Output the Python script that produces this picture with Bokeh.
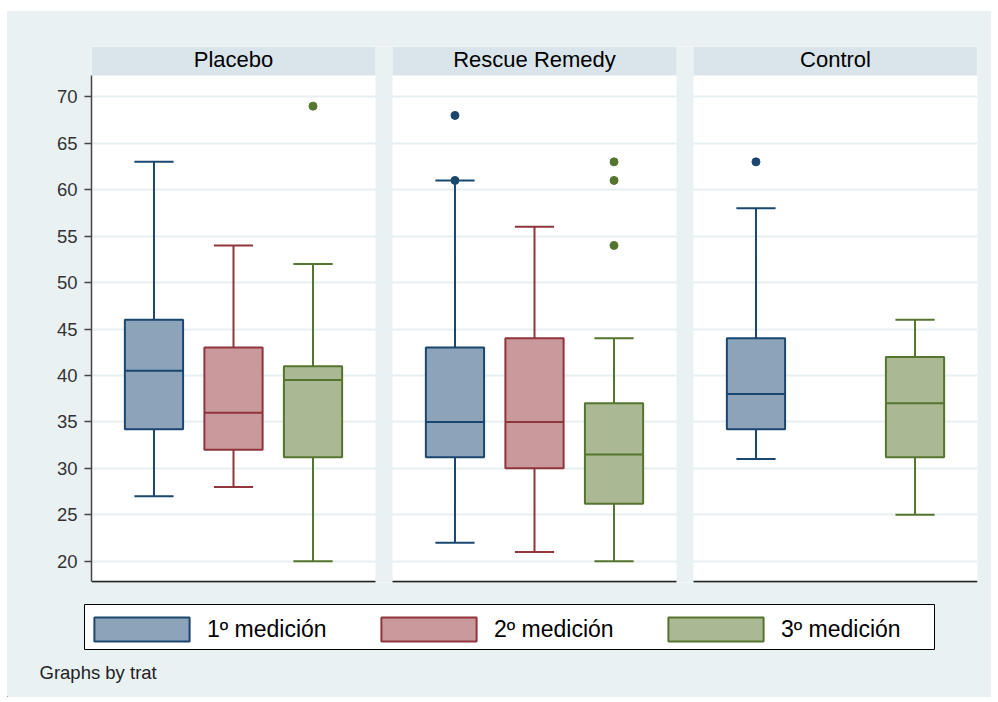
from bokeh.plotting import figure
from bokeh.layouts import column
from bokeh.models import Range1d, FixedTicker, Legend, LegendItem, Label, ColumnDataSource
from bokeh.embed import file_html
from bokeh.resources import INLINE

# ---------------- data ----------------
panels = ["Placebo", "Rescue Remedy", "Control"]
series = ["1º medición", "2º medición", "3º medición"]
y_ticks = [20, 25, 30, 35, 40, 45, 50, 55, 60, 65, 70]

# values per panel: [Placebo, Rescue Remedy, Control]  (None = no data)
low_1 = [27, 22, 31]
q1_1 = [34.2, 31.2, 34.2]
median_1 = [40.5, 35, 38]
q3_1 = [46, 43, 44]
high_1 = [63, 61, 58]

low_2 = [28, 21, None]
q1_2 = [32, 30, None]
median_2 = [36, 35, None]
q3_2 = [43, 44, None]
high_2 = [54, 56, None]

low_3 = [20, 20, 25]
q1_3 = [31.2, 26.2, 31.2]
median_3 = [39.5, 31.5, 37]
q3_3 = [41, 37, 42]
high_3 = [52, 44, 46]

outlier_panel = ["Placebo", "Rescue Remedy", "Rescue Remedy", "Rescue Remedy",
                 "Rescue Remedy", "Rescue Remedy", "Control"]
outlier_series = ["3º medición", "1º medición", "1º medición", "3º medición",
                  "3º medición", "3º medición", "1º medición"]
outlier_value = [69, 68, 61, 63, 61, 54, 63]

footer = "Graphs by trat"

# ---------------- style ----------------
line_colors = ["#1a476f", "#90353b", "#55752f"]
fill_colors = ["#8da3b9", "#c9999c", "#aab994"]
BG = "#eaf1f3"
HEADER = "#d9e5eb"
GRID = "#e8eff2"
FONT = "Liberation Sans"

GAP = 17 / 284            # gap between panels, in panel widths
OFFS = [0.22, 0.5, 0.78]  # box centres inside a panel
BOX_W = 0.205
CAP_W = 0.138
Y0, Y1 = 17.71, 75.42     # frame range
PLOT_BOTTOM, PLOT_TOP = 17.8, 72.3

p = figure(width=984, height=583, output_backend="svg", toolbar_location=None,
           x_range=Range1d(0, 3 + 2 * GAP), y_range=Range1d(Y0, Y1),
           x_axis_location=None, min_border_left=84, min_border_right=14,
           min_border_top=35, min_border_bottom=12)
p.frame_align = False
p.border_fill_color = BG
p.background_fill_color = "white"
p.outline_line_color = None
p.xgrid.visible = False
p.ygrid.ticker = FixedTicker(ticks=y_ticks)
p.ygrid.grid_line_color = GRID
p.ygrid.grid_line_width = 2

ax = p.yaxis[0]
ax.ticker = FixedTicker(ticks=y_ticks)
ax.bounds = (PLOT_BOTTOM, PLOT_TOP)
ax.axis_line_color = "#444444"
ax.axis_line_width = 1.5
ax.major_tick_line_color = "#444444"
ax.major_tick_line_width = 1.5
ax.major_tick_out = 7
ax.major_tick_in = 0
ax.minor_tick_line_color = None
ax.major_label_text_font = FONT
ax.major_label_text_font_size = "18.5px"
ax.major_label_text_color = "#333333"
ax.major_label_standoff = 7

def px(i):
    return i * (1 + GAP)

# panel gaps, headers, bottom lines
p.quad(left=[px(1) - GAP, px(2) - GAP], right=[px(1), px(2)], bottom=Y0, top=Y1,
       fill_color=BG, line_color=None)
p.quad(left=[px(i) for i in range(3)], right=[px(i) + 1 for i in range(3)],
       bottom=PLOT_TOP, top=Y1, fill_color=HEADER, line_color=None)
p.segment(x0=[px(i) for i in range(3)], x1=[px(i) + 1 for i in range(3)],
          y0=PLOT_BOTTOM, y1=PLOT_BOTTOM, line_color="#222222", line_width=2)
for i, name in enumerate(panels):
    p.add_layout(Label(x=px(i) + 0.5, y=74.05, text=name, text_align="center",
                       text_baseline="middle", text_font=FONT,
                       text_font_size="22px", text_color="black"))

stats = [
    (low_1, q1_1, median_1, q3_1, high_1),
    (low_2, q1_2, median_2, q3_2, high_2),
    (low_3, q1_3, median_3, q3_3, high_3),
]

for k, (lo, q1, med, q3, hi) in enumerate(stats):
    idx = [i for i in range(3) if med[i] is not None]
    x = [px(i) + OFFS[k] for i in idx]
    src = ColumnDataSource(dict(
        x=x,
        lo=[lo[i] for i in idx], q1=[q1[i] for i in idx], med=[med[i] for i in idx],
        q3=[q3[i] for i in idx], hi=[hi[i] for i in idx],
        bx0=[v - BOX_W / 2 for v in x], bx1=[v + BOX_W / 2 for v in x],
        cx0=[v - CAP_W / 2 for v in x], cx1=[v + CAP_W / 2 for v in x],
    ))
    lc, fc = line_colors[k], fill_colors[k]
    p.segment(x0="x", x1="x", y0="q3", y1="hi", source=src, line_color=lc, line_width=2)
    p.segment(x0="x", x1="x", y0="q1", y1="lo", source=src, line_color=lc, line_width=2)
    p.segment(x0="cx0", x1="cx1", y0="hi", y1="hi", source=src, line_color=lc, line_width=2)
    p.segment(x0="cx0", x1="cx1", y0="lo", y1="lo", source=src, line_color=lc, line_width=2)
    p.vbar(x="x", width=BOX_W, bottom="q1", top="q3", source=src,
           fill_color=fc, line_color=lc, line_width=2)
    p.segment(x0="bx0", x1="bx1", y0="med", y1="med", source=src, line_color=lc, line_width=2)

    ox = [px(panels.index(pn)) + OFFS[k] for pn, s in zip(outlier_panel, outlier_series)
          if s == series[k]]
    oy = [v for v, s in zip(outlier_value, outlier_series) if s == series[k]]
    if ox:
        p.scatter(x=ox, y=oy, size=8, fill_color=lc, line_color=lc)

# ---------------- legend + footer strip ----------------
W2, H2 = 984, 103
p2 = figure(width=W2, height=H2, output_backend="svg", toolbar_location=None,
            x_range=Range1d(0, W2), y_range=Range1d(0, H2),
            x_axis_location=None, y_axis_location=None,
            min_border_left=0, min_border_right=0, min_border_top=0, min_border_bottom=0)
p2.frame_align = False
p2.border_fill_color = BG
p2.background_fill_color = BG
p2.outline_line_color = None
p2.xgrid.visible = False
p2.ygrid.visible = False

# legend box (pixel coordinates of this strip)
p2.quad(left=[77], right=[927], bottom=[48], top=[93],
        fill_color="white", line_color="black", line_width=1)

# legend proxies (one point each, placed off the visible area)
swatches = []
for k in range(3):
    swatches.append(p2.vbar(x=[-500], top=[-500], bottom=[-501], width=1,
                            fill_color=fill_colors[k], line_color=line_colors[k],
                            line_width=2))

legend = Legend(items=[LegendItem(label=series[k], renderers=[swatches[k]])
                       for k in range(3)],
                orientation="horizontal", location=(75, 50),
                glyph_width=119, glyph_height=30, label_standoff=6,
                label_width=140, label_height=36, spacing=22, padding=0, margin=0,
                border_line_color=None, background_fill_alpha=0,
                label_text_font=FONT, label_text_font_size="23px",
                label_text_color="black")
p2.add_layout(legend)

p2.add_layout(Label(x=32, y=25, text=footer, text_align="left", text_baseline="middle",
                    text_font=FONT, text_font_size="18.5px", text_color="#222222"))

layout = column(p, p2, spacing=0, margin=(11, 0, 0, 7),
                styles={"background-color": BG})
open("out.html", "w").write(file_html(layout, INLINE))
